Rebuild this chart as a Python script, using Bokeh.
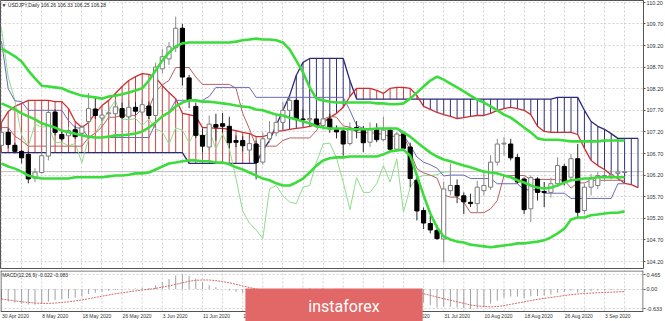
from bokeh.plotting import figure
from bokeh.layouts import column
from bokeh.models import (Range1d, FixedTicker, Label, Span, Grid,
                          ColumnDataSource, NumeralTickFormatter)
from bokeh.embed import file_html
from bokeh.resources import INLINE

# ---------------- data ----------------
date_labels = ["30 Apr 2020", "8 May 2020", "18 May 2020", "26 May 2020", "3 Jun 2020",
               "11 Jun 2020", "19 Jun 2020", "29 Jun 2020", "7 Jul 2020", "15 Jul 2020",
               "23 Jul 2020", "31 Jul 2020", "10 Aug 2020", "18 Aug 2020", "26 Aug 2020",
               "3 Sep 2020"]
date_bars = [0, 6, 12, 18, 24, 30, 36, 42, 48, 54, 60, 66, 72, 78, 84, 90]

open_ = [106.89, 107.19, 106.89, 106.75, 106.68, 106.13, 106.26, 106.64, 107.66, 107.14,
         107.11, 107.25, 107.17, 107.44, 107.73, 107.52, 107.62, 107.62, 107.74, 107.55,
         107.77, 107.66, 107.80, 107.58, 108.66, 108.89, 109.15, 109.60, 108.45, 107.79,
         107.12, 106.85, 107.37, 107.39, 107.33, 107.00, 107.00, 106.78, 106.92, 106.50,
         107.04, 107.18, 107.42, 107.70, 107.93, 107.50, 107.48, 107.50, 107.35, 107.50,
         107.25, 107.22, 106.93, 107.30, 107.25, 106.96, 107.25, 107.02, 107.24, 106.80,
         107.15, 106.85, 106.08, 105.38, 105.08, 104.92, 104.72, 105.84, 105.96, 105.72,
         105.57, 105.54, 105.84, 105.92, 106.50, 106.92, 106.92, 106.61, 106.11, 105.42,
         106.11, 105.82, 105.80, 106.00, 106.40, 106.15, 106.58, 105.38, 105.92, 105.96,
         106.17, 106.18, 106.24, 106.26]
high = [107.26, 107.28, 106.95, 106.78, 106.75, 106.36, 106.73, 107.72, 107.72, 107.22,
        107.32, 107.35, 107.36, 108.10, 108.00, 107.72, 107.80, 107.93, 107.88, 107.94,
        107.89, 107.96, 107.90, 108.80, 109.12, 109.28, 109.87, 109.70, 108.52, 107.88,
        107.27, 107.58, 107.62, 107.64, 107.55, 107.12, 107.10, 107.05, 107.00, 107.19,
        107.45, 107.60, 107.90, 108.02, 107.97, 107.72, 107.60, 107.70, 107.68, 107.62,
        107.35, 107.28, 107.42, 107.45, 107.34, 107.42, 107.40, 107.55, 107.30, 107.20,
        107.20, 106.95, 106.15, 105.45, 105.26, 105.05, 106.05, 106.47, 106.10, 105.80,
        105.77, 106.07, 106.31, 106.66, 107.04, 107.08, 107.04, 106.69, 106.15, 106.19,
        106.15, 106.04, 106.14, 106.61, 106.46, 106.69, 106.92, 106.00, 106.23, 106.27,
        106.30, 106.32, 106.33, 106.33]
low = [106.82, 106.82, 106.70, 106.47, 106.01, 106.04, 106.23, 106.54, 107.12, 106.98,
       107.08, 107.04, 107.06, 107.38, 107.50, 107.45, 107.48, 107.55, 107.50, 107.50,
       107.60, 107.58, 107.50, 107.52, 108.55, 108.75, 109.05, 108.27, 107.75, 107.06,
       106.73, 106.78, 107.00, 107.19, 106.82, 106.85, 106.75, 106.65, 106.10, 106.44,
       106.95, 107.10, 107.35, 107.60, 107.45, 107.40, 107.40, 107.30, 107.25, 107.18,
       107.05, 106.65, 106.88, 107.05, 106.73, 106.85, 106.96, 106.98, 106.75, 106.75,
       106.78, 105.92, 105.15, 104.95, 104.85, 104.70, 104.18, 105.73, 105.55, 105.30,
       105.46, 105.34, 105.73, 105.86, 106.42, 106.65, 106.54, 106.00, 105.30, 105.11,
       105.61, 105.46, 105.68, 105.98, 105.96, 106.08, 105.23, 105.30, 105.73, 105.88,
       106.05, 106.10, 106.18, 106.25]
close = [107.19, 106.91, 106.75, 106.60, 106.11, 106.27, 106.65, 107.65, 107.19, 107.04,
         107.23, 107.09, 107.31, 107.74, 107.58, 107.59, 107.64, 107.78, 107.54, 107.77,
         107.68, 107.83, 107.58, 108.70, 108.94, 109.17, 109.60, 108.47, 107.93, 107.12,
         106.87, 107.38, 107.31, 107.33, 106.95, 106.96, 106.88, 106.93, 106.49, 107.04,
         107.18, 107.42, 107.70, 107.93, 107.50, 107.48, 107.51, 107.35, 107.50, 107.27,
         107.20, 106.92, 107.29, 107.24, 106.95, 107.25, 107.02, 107.24, 106.80, 107.15,
         106.82, 106.12, 105.37, 105.09, 104.93, 104.73, 105.88, 105.96, 105.72, 105.58,
         105.54, 105.92, 105.96, 106.50, 106.92, 106.94, 106.60, 106.04, 105.40, 106.14,
         105.80, 105.80, 106.00, 106.42, 106.04, 106.58, 105.34, 105.92, 106.14, 106.19,
         106.19, 106.21, 106.27, 106.28]

bb_upper = [109.13, 109.04, 108.95, 108.83, 108.62, 108.44, 108.27, 108.25, 108.23, 108.21,
            108.14, 108.09, 108.04, 108.02, 108.00, 107.97, 108.02, 108.04, 108.07, 108.11,
            108.16, 108.21, 108.39, 108.62, 108.85, 109.04, 109.18, 109.25, 109.27, 109.27,
            109.27, 109.27, 109.27, 109.27, 109.27, 109.29, 109.32, 109.34, 109.36, 109.34,
            109.34, 109.32, 109.27, 109.11, 108.85, 108.58, 108.23, 107.97, 107.93, 107.90,
            107.88, 107.88, 107.88, 107.88, 107.88, 107.88, 107.86, 107.86, 107.84, 107.84,
            107.86, 107.97, 108.11, 108.25, 108.39, 108.48, 108.41, 108.32, 108.23, 108.14,
            108.04, 107.95, 107.88, 107.79, 107.70, 107.60, 107.53, 107.42, 107.30, 107.19,
            107.05, 107.02, 107.02, 107.02, 107.00, 106.98, 106.98, 106.98, 106.98, 106.98,
            107.00, 107.00, 107.00, 107.00]
bb_mid = [107.86, 107.79, 107.72, 107.63, 107.56, 107.49, 107.40, 107.35, 107.30, 107.23,
          107.19, 107.16, 107.12, 107.09, 107.07, 107.07, 107.09, 107.12, 107.12, 107.14,
          107.16, 107.21, 107.30, 107.42, 107.56, 107.65, 107.79, 107.88, 107.93, 107.93,
          107.90, 107.90, 107.88, 107.86, 107.84, 107.81, 107.79, 107.77, 107.72, 107.70,
          107.65, 107.60, 107.58, 107.53, 107.49, 107.44, 107.40, 107.33, 107.30, 107.28,
          107.28, 107.28, 107.26, 107.26, 107.26, 107.26, 107.28, 107.28, 107.28, 107.28,
          107.19, 107.09, 106.96, 106.84, 106.72, 106.63, 106.56, 106.52, 106.47, 106.42,
          106.38, 106.33, 106.28, 106.26, 106.24, 106.19, 106.15, 106.08, 106.03, 105.96,
          105.91, 105.89, 105.91, 105.96, 106.03, 106.08, 106.10, 106.12, 106.12, 106.15,
          106.15, 106.15, 106.15, 106.15]
bb_lower = [106.47, 106.40, 106.35, 106.28, 106.19, 106.15, 106.12, 106.12, 106.12, 106.12,
            106.12, 106.15, 106.15, 106.15, 106.15, 106.15, 106.17, 106.19, 106.19, 106.21,
            106.24, 106.24, 106.26, 106.33, 106.40, 106.47, 106.49, 106.52, 106.54, 106.54,
            106.52, 106.52, 106.49, 106.49, 106.45, 106.38, 106.33, 106.26, 106.19, 106.12,
            106.08, 106.01, 105.96, 105.96, 106.03, 106.12, 106.26, 106.42, 106.54, 106.59,
            106.61, 106.61, 106.63, 106.63, 106.63, 106.63, 106.63, 106.68, 106.75, 106.77,
            106.79, 106.65, 106.19, 105.73, 105.31, 104.99, 104.78, 104.71, 104.66, 104.64,
            104.59, 104.57, 104.55, 104.53, 104.55, 104.57, 104.59, 104.62, 104.62, 104.64,
            104.66, 104.69, 104.76, 104.85, 104.96, 105.17, 105.22, 105.22, 105.27, 105.29,
            105.31, 105.33, 105.33, 105.36]

tenkan = [107.30, 107.30, 107.10, 107.00, 106.87, 106.87, 106.87, 106.87, 106.87, 106.87,
          106.87, 106.87, 106.87, 107.07, 107.17, 107.32, 107.54, 107.54, 107.59, 107.59,
          107.58, 107.74, 107.74, 108.13, 108.29, 108.39, 108.69, 108.69, 108.69, 108.47,
          108.30, 108.30, 108.30, 108.30, 108.30, 108.21, 107.63, 107.27, 106.87, 106.87,
          106.87, 106.87, 107.00, 107.06, 107.06, 107.06, 107.06, 107.23, 107.49, 107.56,
          107.54, 107.34, 107.31, 107.19, 107.18, 107.18, 107.17, 107.14, 107.10, 107.10,
          107.14, 106.74, 106.35, 106.25, 106.20, 106.13, 105.74, 105.69, 105.69, 105.57,
          105.33, 105.33, 105.33, 105.42, 105.61, 106.19, 106.19, 106.19, 106.19, 106.10,
          106.10, 106.10, 106.10, 106.10, 106.08, 105.90, 106.02, 106.02, 106.08, 106.08,
          106.08, 106.08, 106.08, 106.08]
kijun = [109.30, 108.20, 107.92, 107.90, 107.70, 107.70, 107.70, 107.70, 107.70, 107.70,
         107.46, 107.30, 107.28, 107.07, 107.07, 107.07, 107.07, 107.07, 107.07, 107.07,
         107.07, 107.07, 107.07, 107.40, 107.56, 107.65, 107.93, 107.93, 107.93, 107.93,
         107.93, 108.02, 108.23, 108.23, 108.23, 108.23, 108.23, 108.23, 108.00, 108.00,
         108.00, 108.00, 108.00, 108.00, 108.00, 108.00, 108.00, 108.00, 108.00, 108.00,
         108.00, 108.00, 107.70, 107.35, 107.28, 107.28, 107.28, 107.28, 107.28, 107.28,
         107.12, 106.89, 106.62, 106.50, 106.44, 106.36, 106.18, 106.20, 106.20, 106.20,
         106.12, 106.12, 106.12, 106.12, 106.00, 106.00, 106.00, 106.00, 105.86, 105.86,
         105.86, 105.78, 105.78, 105.78, 105.78, 105.66, 105.66, 105.66, 105.66, 105.66,
         105.66, 105.66, 106.00, 106.00]
span_a = [107.42, 107.67, 107.79, 107.86, 107.93, 107.93, 107.93, 107.93, 107.90, 107.90,
          107.74, 107.44, 107.30, 107.42, 107.63, 107.81, 107.93, 108.09, 108.25, 108.39,
          108.48, 108.55, 108.53, 108.46, 108.27, 108.11, 107.97, 107.63, 107.60, 107.56,
          107.30, 107.30, 107.28, 107.28, 107.26, 107.23, 107.19, 107.16, 107.09, 107.09,
          107.14, 107.21, 107.23, 107.26, 107.28, 107.30, 107.33, 107.37, 107.42, 107.53,
          107.63, 107.77, 108.02, 108.21, 108.21, 108.21, 108.16, 108.09, 108.21, 108.23,
          108.23, 108.21, 108.04, 107.79, 107.72, 107.65, 107.60, 107.56, 107.51, 107.53,
          107.56, 107.58, 107.58, 107.63, 107.70, 107.74, 107.77, 107.74, 107.70, 107.60,
          107.33, 107.21, 107.19, 107.19, 107.19, 107.19, 107.14, 106.82, 106.54, 106.42,
          106.33, 106.21, 106.12, 106.01, 105.98, 105.91]
span_b = [106.72, 106.72, 106.72, 106.72, 106.72, 106.72, 106.72, 106.72, 106.72, 106.72,
          106.72, 106.72, 106.72, 106.72, 106.72, 106.72, 106.72, 106.72, 106.72, 106.72,
          106.72, 106.72, 106.72, 106.72, 106.72, 106.72, 106.72, 106.72, 106.47, 106.47,
          106.47, 106.47, 106.47, 106.47, 106.47, 106.47, 106.47, 106.47, 106.47, 106.77,
          107.00, 107.35, 107.70, 108.04, 108.51, 108.81, 108.90, 108.90, 108.90, 108.90,
          108.90, 108.90, 108.39, 107.96, 107.96, 107.96, 107.96, 107.96, 107.96, 107.96,
          107.96, 107.96, 107.96, 107.96, 107.96, 107.96, 107.96, 107.96, 107.96, 107.96,
          107.96, 107.96, 107.96, 107.96, 107.96, 107.96, 107.96, 107.96, 107.96, 107.96,
          107.96, 107.96, 107.96, 108.00, 108.00, 108.00, 108.00, 107.70, 107.44, 107.33,
          107.26, 107.16, 107.05, 107.05, 107.05, 107.05]

macd_main = [-0.36, -0.40, -0.44, -0.47, -0.50, -0.50, -0.48, -0.40, -0.35, -0.33,
             -0.30, -0.28, -0.24, -0.16, -0.12, -0.09, -0.06, -0.03, -0.02, 0.01,
             0.02, 0.04, 0.03, 0.12, 0.22, 0.32, 0.43, 0.465, 0.42, 0.33,
             0.22, 0.12, 0.06, 0.00, -0.05, -0.09, -0.13, -0.16, -0.21, -0.19,
             -0.16, -0.12, -0.07, -0.02, 0.00, 0.01, 0.02, 0.01, 0.02, 0.00,
             -0.02, -0.06, -0.05, -0.05, -0.07, -0.06, -0.07, -0.06, -0.09, -0.07,
             -0.09, -0.18, -0.31, -0.43, -0.52, -0.59, -0.56, -0.57, -0.59, -0.62,
             -0.633, -0.60, -0.57, -0.47, -0.37, -0.28, -0.24, -0.24, -0.29, -0.23,
             -0.22, -0.21, -0.18, -0.12, -0.10, -0.05, -0.11, -0.10, -0.07, -0.05,
             -0.04, -0.03, -0.02, -0.022]
macd_signal = [-0.32, -0.35, -0.38, -0.41, -0.43, -0.45, -0.46, -0.46, -0.45, -0.43,
               -0.41, -0.38, -0.35, -0.31, -0.27, -0.23, -0.19, -0.15, -0.12, -0.09,
               -0.06, -0.03, -0.01, 0.02, 0.06, 0.10, 0.15, 0.20, 0.25, 0.28,
               0.29, 0.29, 0.27, 0.24, 0.20, 0.15, 0.10, 0.05, 0.00, -0.04,
               -0.07, -0.10, -0.11, -0.12, -0.11, -0.10, -0.08, -0.06, -0.04, -0.02,
               -0.01, -0.01, -0.02, -0.02, -0.03, -0.04, -0.05, -0.05, -0.06, -0.06,
               -0.07, -0.08, -0.11, -0.15, -0.20, -0.26, -0.31, -0.36, -0.41, -0.46,
               -0.51, -0.54, -0.56, -0.57, -0.56, -0.53, -0.49, -0.45, -0.41, -0.37,
               -0.33, -0.30, -0.27, -0.24, -0.21, -0.18, -0.16, -0.14, -0.13, -0.12,
               -0.11, -0.10, -0.09, -0.083]

price_ticks = [104.20, 104.70, 105.20, 105.70, 106.20, 106.70, 107.20, 107.70,
               108.20, 108.70, 109.20, 109.70, 110.20]
macd_ticks = [-0.633, 0.0, 0.465]
macd_tick_labels = ["-0.633", "0.00", "0.465"]
last_price = 106.28
header_text = "\u25bc USDJPY,Daily 106.26 106.33 106.25 106.28"
macd_text = "MACD(12,26,9) -0.022 -0.083"
logo_text = "instaforex"

# ---------------- derived drawing helpers ----------------
n = len(close)
bars = list(range(n))
cloud_bars = list(range(len(span_a)))
chikou = close[26:]
chikou_bars = list(range(len(chikou)))
grid_bars = list(range(0, 96, 3))

FONT = "Liberation Sans"
GRID = "#d2d2d2"
GREEN = "#3ddc3d"
X0, X1 = -0.149, 95.82

xr = Range1d(X0, X1)

p = figure(frame_width=643, frame_height=268, x_range=xr, y_range=Range1d(104.038, 110.242),
           x_axis_location=None, y_axis_location="right", output_backend="svg",
           toolbar_location=None, min_border_left=0, min_border_right=0,
           min_border_top=0, min_border_bottom=2)
p.background_fill_color = "white"
p.border_fill_color = "white"
p.outline_line_color = "#555555"

ax = p.yaxis[0]
ax.ticker = FixedTicker(ticks=price_ticks)
ax.formatter = NumeralTickFormatter(format="0.00")
ax.major_label_text_font = FONT
ax.major_label_text_font_size = "5.5px"
ax.major_label_text_color = "#333333"
ax.axis_line_color = None
ax.major_tick_out = 2
ax.major_tick_in = 0
ax.major_tick_line_color = "#555555"
ax.minor_tick_line_color = None
ax.major_label_standoff = 1
for g in p.ygrid:
    g.grid_line_color = GRID
    g.grid_line_dash = "2 2"
for g in p.xgrid:
    g.grid_line_color = None
p.add_layout(Grid(dimension=0, ticker=FixedTicker(ticks=grid_bars),
                  grid_line_color=GRID, grid_line_dash="2 2"))

p.add_layout(Span(location=last_price, dimension="width", line_color="#bdbdbd",
                  line_width=1, level="underlay"))

# Ichimoku cloud hatch
hatch_col = ["#d04040" if a >= b else "#30307c" for a, b in zip(span_a, span_b)]
p.segment(x0=cloud_bars, y0=span_a, x1=cloud_bars, y1=span_b, line_color=hatch_col, line_width=1)
p.line(cloud_bars, span_b, line_color="#2a2a78", line_width=1.3)
p.line(cloud_bars, span_a, line_color="#cc2f2f", line_width=1.3)

# Ichimoku thin lines
p.line(chikou_bars, chikou, line_color="#8fdc8f", line_width=1)
p.line(bars, tenkan, line_color="#b86060", line_width=1)
p.line(bars, kijun, line_color="#6b6bb8", line_width=1)

# candles
inc = [c >= o for o, c in zip(open_, close)]
body_top = [max(o, c) for o, c in zip(open_, close)]
body_bot = [min(min(o, c), max(o, c) - 0.012) for o, c in zip(open_, close)]
src = ColumnDataSource(dict(
    x=bars, high=high, low=low, top=body_top, bottom=body_bot,
    wick=["#8c8c8c" if u else "#2a2a2a" for u in inc],
    fill=["#ffffff" if u else "#000000" for u in inc],
    line=["#7c7c7c" if u else "#000000" for u in inc]))
p.segment(x0="x", y0="low", x1="x", y1="high", line_color="wick", line_width=1, source=src)
p.vbar(x="x", width=0.62, top="top", bottom="bottom", fill_color="fill",
       line_color="line", line_width=1, source=src)

# Bollinger bands
for band in (bb_upper, bb_mid, bb_lower):
    p.line(bars, band, line_color=GREEN, line_width=2.6)

p.add_layout(Label(x=0.0, y=110.14, text=header_text, text_font=FONT, text_font_size="5px",
                   text_color="#222222", text_baseline="middle", text_align="left"))
p.add_layout(Label(x=X1, y=last_price, x_offset=1, text="106.28", text_font=FONT,
                   text_font_size="5.5px", text_color="white", text_baseline="middle",
                   text_align="left", background_fill_color="#111111",
                   padding=dict(left=1, right=2, top=2, bottom=2)))

# ---------------- MACD pane + date strip (one frame: 41 px pane + 10 px strip) ----------------
PANE_TOP, PANE_BOT, STRIP_BOT = 0.594, -0.7205, -1.0406
q = figure(frame_width=643, frame_height=51, x_range=xr, y_range=Range1d(STRIP_BOT, PANE_TOP),
           x_axis_location=None, y_axis_location="right", output_backend="svg",
           toolbar_location=None, min_border_left=0, min_border_right=0,
           min_border_top=0, min_border_bottom=0)
q.background_fill_color = "white"
q.border_fill_color = "white"
q.outline_line_color = None

qy = q.yaxis[0]
qy.ticker = FixedTicker(ticks=macd_ticks)
qy.major_label_overrides = {t: s for t, s in zip(macd_ticks, macd_tick_labels)}
qy.major_label_text_font = FONT
qy.major_label_text_font_size = "5.5px"
qy.major_label_text_color = "#333333"
qy.axis_line_color = None
qy.major_tick_out = 2
qy.major_tick_in = 0
qy.major_tick_line_color = "#555555"
qy.minor_tick_line_color = None
qy.major_label_standoff = 1

for g in q.ygrid:
    g.grid_line_color = GRID
    g.grid_line_dash = "2 2"
for g in q.xgrid:
    g.grid_line_color = None
# vertical grid only inside the MACD pane
q.segment(x0=grid_bars, y0=PANE_BOT, x1=grid_bars, y1=PANE_TOP, line_color=GRID,
          line_width=1, line_dash="2 2")

q.segment(x0=bars, y0=[0.0] * n, x1=bars, y1=macd_main, line_color="#a0a0a0", line_width=1)
q.line(bars, macd_signal, line_color="#d46a6a", line_width=1, line_dash="2 1")

# pane border
q.add_layout(Span(location=PANE_BOT, dimension="width", line_color="#555555", line_width=1))
q.add_layout(Span(location=PANE_TOP - 0.016, dimension="width", line_color="#555555",
                  line_width=1))
q.segment(x0=[X0 + 0.07, X1 - 0.07], y0=PANE_BOT, x1=[X0 + 0.07, X1 - 0.07], y1=PANE_TOP,
          line_color="#555555", line_width=1)

q.add_layout(Label(x=0.1, y=0.443, text=macd_text, text_font=FONT, text_font_size="5px",
                   text_color="#222222", text_baseline="middle", text_align="left"))

# date labels, left-aligned at their bars in the strip below the pane
for b, d in zip(date_bars, date_labels):
    q.add_layout(Label(x=b, y=-0.880, x_offset=0.5, text=d, text_font=FONT,
                       text_font_size="5px", text_color="#333333",
                       text_align="left", text_baseline="middle"))

# watermark: box, then text (drawn over the date labels)
q.add_layout(Label(x=49.63, y=-0.56, text=" ", text_font=FONT, text_font_size="1px",
                   text_align="center", text_baseline="middle", level="overlay",
                   background_fill_color="#e26767",
                   padding=dict(left=88, right=89, top=15, bottom=20)))
q.add_layout(Label(x=49.63, y=-0.56, x_offset=10, text=logo_text, text_font="Roboto",
                   text_font_size="16px", text_color="white", text_align="center",
                   text_baseline="middle", level="overlay"))

layout = column(p, q)
open("out.html", "w").write(file_html(layout, INLINE))
